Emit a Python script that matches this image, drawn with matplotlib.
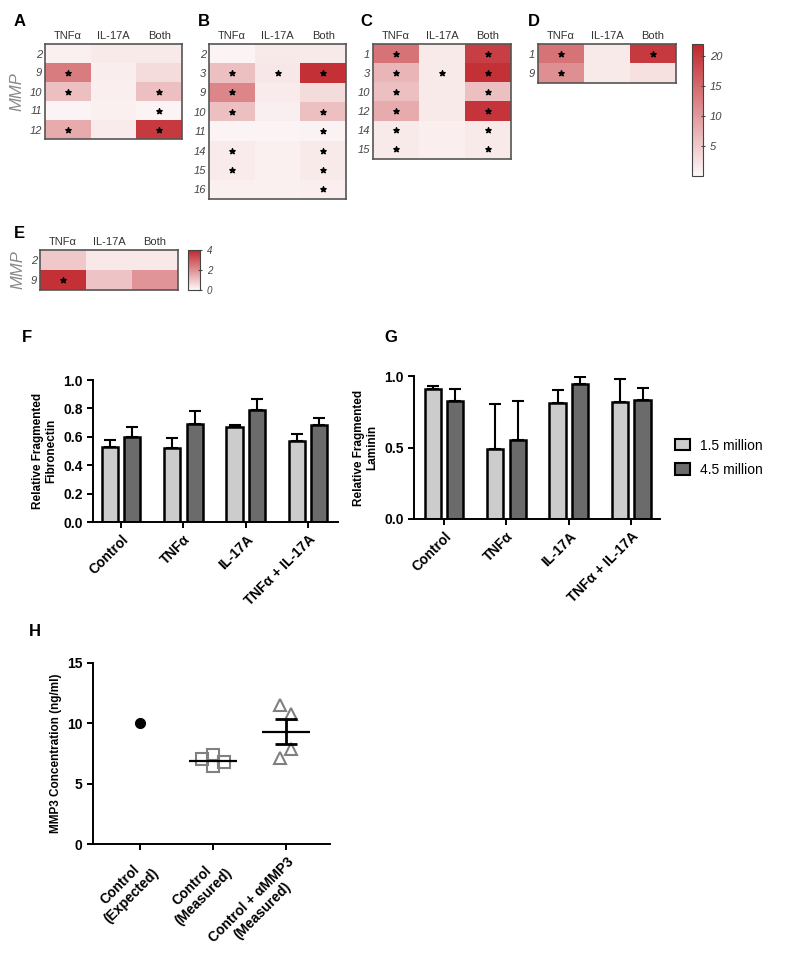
import matplotlib

matplotlib.use("Agg")
import matplotlib.pyplot as plt
import numpy as np
from matplotlib.colors import LinearSegmentedColormap
from matplotlib.patches import Patch

plt.rcParams["font.family"] = ["Liberation Sans", "DejaVu Sans"]

W, H = 787, 975

# heatmap data (fold change), columns = treatments
heat_cols = ["TNFα", "IL-17A", "Both"]

a_rows = ["2", "9", "10", "11", "12"]
a_vals = [[0.8, 1.5, 1.5], [13, 1.2, 3], [6, 1.0, 6], [0.5, 0.8, 0.5], [8, 1.3, 20]]
a_stars = [[0, 0, 0], [1, 0, 0], [1, 0, 1], [0, 0, 1], [1, 0, 1]]

b_rows = ["2", "3", "9", "10", "11", "14", "15", "16"]
b_vals = [[0.5, 1.5, 1.5], [6, 1.8, 21], [12, 1.3, 3], [6, 0.9, 6],
          [0.5, 0.5, 0.6], [1.4, 0.8, 1.5], [1.4, 0.8, 1.5], [0.8, 0.8, 1.0]]
b_stars = [[0, 0, 0], [1, 1, 1], [1, 0, 0], [1, 0, 1],
           [0, 0, 1], [1, 0, 1], [1, 0, 1], [0, 0, 1]]

c_rows = ["1", "3", "10", "12", "14", "15"]
c_vals = [[14, 1.5, 19.5], [7, 1.5, 21], [6, 1.5, 6], [8, 1.5, 20.5], [1.5, 1.0, 1.5], [1.5, 1.0, 1.5]]
c_stars = [[1, 0, 1], [1, 1, 1], [1, 0, 1], [1, 0, 1], [1, 0, 1], [1, 0, 1]]

d_rows = ["1", "9"]
d_vals = [[14, 1.5, 20], [11, 1.5, 2.5]]
d_stars = [[1, 0, 1], [1, 0, 0]]

e_rows = ["2", "9"]
e_vals = [[0.9, 0.3, 0.3], [3.8, 1.0, 1.9]]
e_stars = [[0, 0, 0], [1, 0, 0]]

# bar data
groups = ["Control", "TNFα", "IL-17A", "TNFα + IL-17A"]
fn_low = [0.53, 0.52, 0.667, 0.572]
fn_low_err = [0.05, 0.07, 0.017, 0.045]
fn_high = [0.60, 0.69, 0.787, 0.686]
fn_high_err = [0.07, 0.09, 0.082, 0.045]
lam_low = [0.909, 0.488, 0.809, 0.816]
lam_low_err = [0.024, 0.314, 0.093, 0.165]
lam_high = [0.823, 0.551, 0.942, 0.83]
lam_high_err = [0.084, 0.275, 0.049, 0.085]

# MMP3 data
mmp_labels = ["Control\n(Expected)", "Control\n(Measured)", "Control + αMMP3\n(Measured)"]
expected = [10.0]
measured = [7.04, 7.35, 6.44, 6.8]
measured_jitter = [-0.16, 0.0, 0.0, 0.15]
blocked = [11.52, 10.77, 7.9, 7.1]
blocked_jitter = [-0.08, 0.07, 0.07, -0.08]

cmap = LinearSegmentedColormap.from_list("wr", ["#fdf8f8", "#c1272d"])

fig = plt.figure(figsize=(W / 100, H / 100), dpi=100)


def px_axes(x0, y0, x1, y1):
    return fig.add_axes([x0 / W, 1 - y1 / H, (x1 - x0) / W, (y1 - y0) / H])


def heatmap(box, rows, vals, stars, vmax, label, label_xy, ylabel=False):
    ax = px_axes(*box)
    data = np.array(vals, dtype=float)
    img = ax.imshow(data, cmap=cmap, vmin=0, vmax=vmax, aspect="auto", interpolation="nearest")
    sy, sx = np.nonzero(np.array(stars))
    ax.scatter(sx, sy, marker="*", s=16, color="black", zorder=3)
    ax.set_xticks(range(len(heat_cols)), heat_cols, fontsize=8, color="#333333")
    ax.xaxis.tick_top()
    ax.set_yticks(range(len(rows)), rows, fontsize=8, style="italic", color="#444444")
    ax.tick_params(length=0, pad=2)
    for sp in ax.spines.values():
        sp.set_color("#555555")
        sp.set_linewidth(1.2)
    if ylabel:
        ax.set_ylabel("MMP", fontsize=12, style="italic", color="#888888", labelpad=4)
    fig.text(label_xy[0] / W, 1 - label_xy[1] / H, label, fontsize=12, fontweight="bold",
             va="center")
    return img


heatmap((45, 44, 182, 139), a_rows, a_vals, a_stars, 22, "A", (14, 22), ylabel=True)
heatmap((209, 44, 346, 199), b_rows, b_vals, b_stars, 22, "B", (198, 22))
heatmap((373, 44, 511, 159), c_rows, c_vals, c_stars, 22, "C", (360, 22))
img_d = heatmap((538, 44, 676, 83), d_rows, d_vals, d_stars, 22, "D", (528, 22))
img_e = heatmap((40, 250, 178, 290), e_rows, e_vals, e_stars, 4, "E", (14, 234), ylabel=True)

cax_d = px_axes(692, 44, 703, 176)
cb = fig.colorbar(img_d, cax=cax_d, ticks=[5, 10, 15, 20])
cb.ax.tick_params(labelsize=8, length=3, direction="inout", colors="#444444")
for t in cb.ax.get_yticklabels():
    t.set_style("italic")
cb.outline.set_edgecolor("#444444")

cax_e = px_axes(188, 250, 200, 290)
cb2 = fig.colorbar(img_e, cax=cax_e, ticks=[0, 2, 4])
cb2.ax.tick_params(labelsize=7, length=3, direction="inout", colors="#444444")
for t in cb2.ax.get_yticklabels():
    t.set_style("italic")
cb2.outline.set_edgecolor("#444444")

light, dark = "#cccccc", "#6b6b6b"


def style_axes(ax):
    for s in ("top", "right"):
        ax.spines[s].set_visible(False)
    for s in ("left", "bottom"):
        ax.spines[s].set_linewidth(1.4)
    ax.tick_params(width=1.4, length=4, labelsize=10)
    for t in ax.get_yticklabels() + ax.get_xticklabels():
        t.set_fontweight("bold")


def bars(ax, low, low_err, high, high_err, ylabel, yticks, xlim):
    x = np.arange(len(groups))
    ax.bar(x - 0.18, low, 0.26, color=light, edgecolor="black", linewidth=1.8,
           yerr=[np.zeros(len(low)), low_err], capsize=4,
           error_kw=dict(elinewidth=1.5, capthick=1.5, zorder=1), zorder=2)
    ax.bar(x + 0.18, high, 0.26, color=dark, edgecolor="black", linewidth=1.8,
           yerr=[np.zeros(len(high)), high_err], capsize=4,
           error_kw=dict(elinewidth=1.5, capthick=1.5, zorder=1), zorder=2)
    ax.set_ylim(0, 1.0)
    ax.set_xlim(*xlim)
    ax.set_yticks(yticks)
    ax.set_xticks(x, groups, rotation=45, ha="right", rotation_mode="anchor")
    ax.set_ylabel(ylabel, fontsize=8.5, fontweight="bold")
    style_axes(ax)


ax_f = px_axes(93, 380, 338, 522)
bars(ax_f, fn_low, fn_low_err, fn_high, fn_high_err, "Relative Fragmented\nFibronectin",
     [0, 0.2, 0.4, 0.6, 0.8, 1.0], (-0.45, 3.48))
ax_f.yaxis.set_major_formatter(matplotlib.ticker.FormatStrFormatter("%.1f"))
fig.text(22 / W, 1 - 337 / H, "F", fontsize=12, fontweight="bold", va="center")

ax_g = px_axes(414, 376, 660, 519)
bars(ax_g, lam_low, lam_low_err, lam_high, lam_high_err, "Relative Fragmented\nLaminin",
     [0, 0.5, 1.0], (-0.48, 3.46))
ax_g.yaxis.set_major_formatter(matplotlib.ticker.FormatStrFormatter("%.1f"))
fig.text(384 / W, 1 - 337 / H, "G", fontsize=12, fontweight="bold", va="center")

handles = [Patch(facecolor=light, edgecolor="black", linewidth=1.5),
           Patch(facecolor=dark, edgecolor="black", linewidth=1.5)]
fig.legend(handles, ["1.5 million", "4.5 million"], loc="upper left",
           bbox_to_anchor=(662 / W, 1 - 426 / H), frameon=False, fontsize=10,
           handlelength=1.1, handleheight=0.9, labelspacing=0.75, handletextpad=0.7)

ax_h = px_axes(93, 663, 330, 844)
ax_h.plot([0], expected, "o", color="black", markersize=7)
ax_h.plot(1 + np.array(measured_jitter), measured, "s", markerfacecolor="none",
          markeredgecolor="#808080", markersize=8, markeredgewidth=1.5)
ax_h.plot(2 + np.array(blocked_jitter), blocked, "^", markerfacecolor="none",
          markeredgecolor="#808080", markersize=8, markeredgewidth=1.5)
ax_h.hlines(np.mean(measured), 1 - 0.33, 1 + 0.33, color="black", linewidth=1.6, zorder=3)
m = np.mean(blocked)
sem = np.std(blocked, ddof=1) / np.sqrt(len(blocked))
ax_h.hlines(m, 2 - 0.33, 2 + 0.33, color="black", linewidth=1.6, zorder=3)
ax_h.errorbar([2], [m], yerr=[sem], color="black", capsize=8, elinewidth=2,
              capthick=2, zorder=3)
ax_h.set_ylim(0, 15)
ax_h.set_xlim(-0.65, 2.6)
ax_h.set_yticks([0, 5, 10, 15])
ax_h.set_xticks(range(3), mmp_labels, rotation=45, ha="right", rotation_mode="anchor",
                multialignment="center")
ax_h.set_ylabel("MMP3 Concentration (ng/ml)", fontsize=8.5, fontweight="bold")
style_axes(ax_h)
fig.text(29 / W, 1 - 632 / H, "H", fontsize=12, fontweight="bold", va="center")

fig.savefig("out.png", dpi=100)
